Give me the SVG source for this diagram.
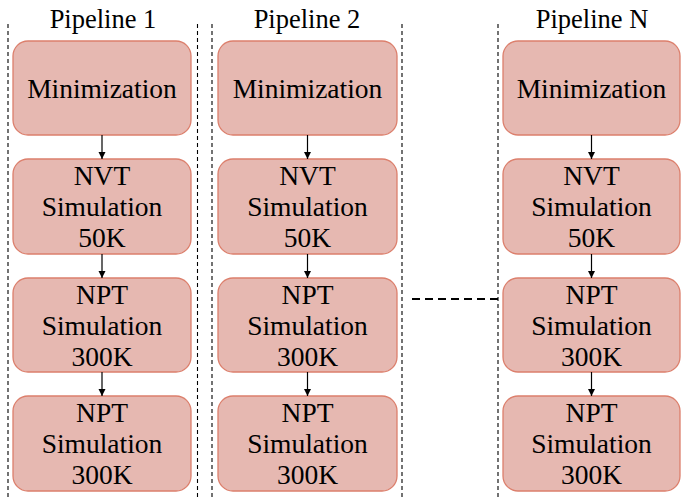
<svg xmlns="http://www.w3.org/2000/svg" width="681" height="497" viewBox="0 0 681 497">
<defs>
<marker id="ah" markerWidth="8" markerHeight="8" refX="7" refY="4" orient="auto" markerUnits="userSpaceOnUse">
<path d="M0,0.5 L7,4 L0,7.5 Z" fill="#000"/>
</marker>
<style>
.box{fill:#e6b8b1;stroke:#dc7f6c;stroke-width:1.3}
.t{font-family:'Liberation Serif',serif;font-size:27.5px;fill:#000;text-anchor:middle}
.h{font-size:26.5px}
.sep{stroke:#000;stroke-width:1.1;stroke-dasharray:4,3;fill:none}
.arr{stroke:#000;stroke-width:1.2;fill:none;marker-end:url(#ah)}
</style>
</defs>
<rect width="681" height="497" fill="#fff"/>
<g id="separators">
<line class="sep" x1="8" y1="24" x2="8" y2="497"/>
<line class="sep" x1="197.5" y1="24" x2="197.5" y2="497"/>
<line class="sep" x1="212" y1="24" x2="212" y2="497"/>
<line class="sep" x1="402" y1="24" x2="402" y2="497"/>
<line class="sep" x1="498" y1="24" x2="498" y2="497"/>
<line x1="412" y1="299" x2="499" y2="299" stroke="#000" stroke-width="2" stroke-dasharray="8,5"/>
</g>
<g id="titles">
<text class="t h" x="103" y="28">Pipeline 1</text>
<text class="t h" x="307" y="28">Pipeline 2</text>
<text class="t h" x="592" y="28">Pipeline N</text>
</g>
<g id="p1-min"><rect class="box" x="13" y="41" width="178" height="94" rx="15"/><text class="t" x="102" y="98">Minimization</text></g>
<g id="p1-nvt"><rect class="box" x="13" y="159" width="178" height="95" rx="15"/><text class="t" x="102" y="185">NVT</text><text class="t" x="102" y="216">Simulation</text><text class="t" x="102" y="247">50K</text></g>
<g id="p1-npt1"><rect class="box" x="13" y="278" width="178" height="94" rx="15"/><text class="t" x="102" y="304">NPT</text><text class="t" x="102" y="335">Simulation</text><text class="t" x="102" y="366">300K</text></g>
<g id="p1-npt2"><rect class="box" x="13" y="396" width="178" height="95" rx="15"/><text class="t" x="102" y="422">NPT</text><text class="t" x="102" y="453">Simulation</text><text class="t" x="102" y="484">300K</text></g>
<g id="p2-min"><rect class="box" x="218" y="41" width="179" height="94" rx="15"/><text class="t" x="307.5" y="98">Minimization</text></g>
<g id="p2-nvt"><rect class="box" x="218" y="159" width="179" height="95" rx="15"/><text class="t" x="307.5" y="185">NVT</text><text class="t" x="307.5" y="216">Simulation</text><text class="t" x="307.5" y="247">50K</text></g>
<g id="p2-npt1"><rect class="box" x="218" y="278" width="179" height="94" rx="15"/><text class="t" x="307.5" y="304">NPT</text><text class="t" x="307.5" y="335">Simulation</text><text class="t" x="307.5" y="366">300K</text></g>
<g id="p2-npt2"><rect class="box" x="218" y="396" width="179" height="95" rx="15"/><text class="t" x="307.5" y="422">NPT</text><text class="t" x="307.5" y="453">Simulation</text><text class="t" x="307.5" y="484">300K</text></g>
<g id="pN-min"><rect class="box" x="503" y="41" width="177" height="94" rx="15"/><text class="t" x="591.5" y="98">Minimization</text></g>
<g id="pN-nvt"><rect class="box" x="503" y="159" width="177" height="95" rx="15"/><text class="t" x="591.5" y="185">NVT</text><text class="t" x="591.5" y="216">Simulation</text><text class="t" x="591.5" y="247">50K</text></g>
<g id="pN-npt1"><rect class="box" x="503" y="278" width="177" height="94" rx="15"/><text class="t" x="591.5" y="304">NPT</text><text class="t" x="591.5" y="335">Simulation</text><text class="t" x="591.5" y="366">300K</text></g>
<g id="pN-npt2"><rect class="box" x="503" y="396" width="177" height="95" rx="15"/><text class="t" x="591.5" y="422">NPT</text><text class="t" x="591.5" y="453">Simulation</text><text class="t" x="591.5" y="484">300K</text></g>
<g id="connectors">
<line class="arr" x1="102" y1="135" x2="102" y2="159"/>
<line class="arr" x1="102" y1="254" x2="102" y2="278"/>
<line class="arr" x1="102" y1="372" x2="102" y2="396"/>
<line class="arr" x1="307.5" y1="135" x2="307.5" y2="159"/>
<line class="arr" x1="307.5" y1="254" x2="307.5" y2="278"/>
<line class="arr" x1="307.5" y1="372" x2="307.5" y2="396"/>
<line class="arr" x1="591.5" y1="135" x2="591.5" y2="159"/>
<line class="arr" x1="591.5" y1="254" x2="591.5" y2="278"/>
<line class="arr" x1="591.5" y1="372" x2="591.5" y2="396"/>
</g>
</svg>
